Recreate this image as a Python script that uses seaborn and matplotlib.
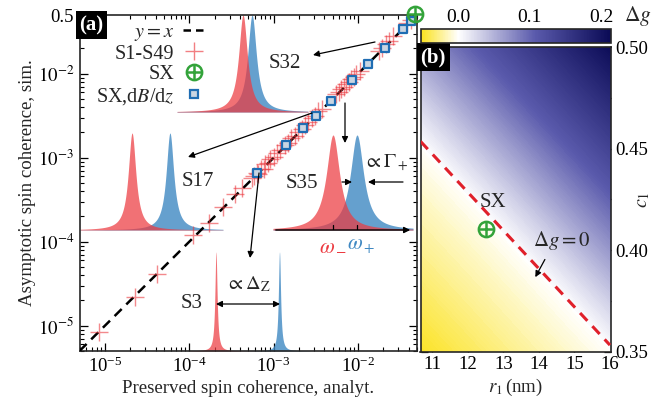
import numpy as np
import matplotlib
matplotlib.use("Agg")
import matplotlib.pyplot as plt
import seaborn as sns
from matplotlib.colors import LinearSegmentedColormap, Normalize
from matplotlib.lines import Line2D
from matplotlib.legend_handler import HandlerTuple

# ---- panel (a): simulated vs analytical coherence ----
s_x = [8.6e-6, 2.28e-5, 4.11e-5,
       1.12e-4, 1.73e-4, 2.53e-4, 3.48e-4, 4.18e-4,
       5.50e-4, 5.89e-4, 6.31e-4, 6.61e-4, 7.08e-4, 7.59e-4, 7.94e-4,
       8.51e-4, 9.12e-4, 1.00e-3, 1.10e-3, 1.20e-3, 1.35e-3, 1.48e-3,
       1.62e-3, 1.78e-3, 1.95e-3, 2.14e-3, 2.34e-3, 2.57e-3, 2.82e-3,
       3.09e-3, 3.39e-3, 3.72e-3,
       5.50e-3, 5.89e-3, 6.31e-3, 6.76e-3, 7.24e-3, 7.76e-3, 8.32e-3,
       8.91e-3, 9.55e-3, 1.05e-2,
       1.78e-2, 1.95e-2, 2.14e-2, 2.34e-2, 2.63e-2, 3.80e-2, 4.27e-2]
s_y = [8.5e-6, 2.21e-5, 4.09e-5,
       1.20e-4, 1.68e-4, 2.57e-4, 3.70e-4, 4.33e-4,
       5.75e-4, 6.03e-4, 6.61e-4, 6.46e-4, 7.41e-4, 7.41e-4, 8.32e-4,
       8.71e-4, 9.55e-4, 1.02e-3, 1.15e-3, 1.23e-3, 1.41e-3, 1.51e-3,
       1.70e-3, 1.82e-3, 2.04e-3, 2.19e-3, 2.45e-3, 2.63e-3, 2.95e-3,
       3.16e-3, 3.55e-3, 3.80e-3,
       5.75e-3, 6.03e-3, 6.61e-3, 6.92e-3, 7.59e-3, 7.94e-3, 8.71e-3,
       9.12e-3, 1.00e-2, 1.07e-2,
       1.86e-2, 2.00e-2, 2.24e-2, 2.45e-2, 2.82e-2, 3.98e-2, 4.37e-2]
grad_x = [6.4e-4, 1.41e-3, 2.24e-3, 3.18e-3, 4.76e-3, 8.4e-3, 1.32e-2, 2.07e-2, 3.42e-2, 4.27e-2]
grad_y = [6.5e-4, 1.42e-3, 2.24e-3, 3.14e-3, 4.78e-3, 8.4e-3, 1.31e-2, 2.04e-2, 3.38e-2, 4.28e-2]
sx_x = [0.047]
sx_y = [0.052]
diag = [5e-6, 0.05]

# ---- panel (b): Delta g map ----
r1_grid = [10.67, 12.0, 13.3, 14.7, 16.03]
c1_grid = [0.35, 0.375, 0.40, 0.425, 0.45, 0.475, 0.50]
dg_grid = [[-0.050, -0.038, -0.026, -0.013, -0.001],
           [-0.038, -0.026, -0.014, -0.001, 0.032],
           [-0.026, -0.014, -0.002, 0.032, 0.068],
           [-0.014, -0.002, 0.030, 0.068, 0.103],
           [-0.002, 0.031, 0.065, 0.103, 0.139],
           [0.030, 0.066, 0.101, 0.139, 0.174],
           [0.066, 0.102, 0.136, 0.174, 0.210]]
zero_r1 = [10.67, 16.0]
zero_c1 = [0.4536, 0.3534]
sx_r1 = [12.52]
sx_c1 = [0.4103]

RED = "#ec3a40"
BLUE = "#3f88c2"
GREEN = "#33a33a"

sns.set_theme(style="ticks")
plt.rcParams["font.family"] = ["Liberation Serif", "DejaVu Serif"]
plt.rcParams["mathtext.fontset"] = "stix"
plt.rcParams["font.size"] = 13.5
for a in ("x", "y"):
    plt.rcParams[a + "tick.direction"] = "in"
    plt.rcParams[a + "tick.labelsize"] = 13.5
    plt.rcParams[a + "tick.color"] = "black"
    plt.rcParams[a + "tick.labelcolor"] = "black"

fig = plt.figure(figsize=(6.54, 4.2), dpi=100)
W, H = 654.0, 420.0
ax = fig.add_axes([79.5 / W, 1 - 351 / H, 337.5 / W, 336 / H])

ax.set_xscale("log")
ax.set_yscale("log")
ax.set_xlim(5e-6, 0.05)
ax.set_ylim(5e-6, 0.05)

ax.plot(diag, diag, color="black", lw=1.8, ls=(0, (4, 2.6)), zorder=3)
sns.scatterplot(x=s_x, y=s_y, marker="+", s=180, color=RED, alpha=0.6,
                linewidth=1.0, ax=ax, legend=False, zorder=4)
sns.scatterplot(x=grad_x, y=grad_y, marker="s", s=34, color="#c9d5e2",
                edgecolor="#1f6db3", linewidth=1.6, ax=ax, legend=False, zorder=5)
ax.plot(sx_x, sx_y, "o", mfc="none", mec=GREEN, ms=11, mew=1.8, clip_on=False, zorder=6)
ax.plot(sx_x, sx_y, "+", color=GREEN, ms=11, mew=1.8, clip_on=False, zorder=6)

ax.set_xticks([1e-5, 1e-4, 1e-3, 1e-2])
ax.set_yticks([1e-5, 1e-4, 1e-3, 1e-2, 0.05])
ax.set_yticklabels([r"$10^{-5}$", r"$10^{-4}$", r"$10^{-3}$", r"$10^{-2}$", "0.5"])
ax.tick_params(which="both", top=True, right=True)
ax.tick_params(which="major", length=6, width=0.9, pad=4)
ax.tick_params(which="minor", length=3, width=0.8)
for sp in ax.spines.values():
    sp.set_linewidth(1.2)
ax.set_xlabel("Preserved spin coherence, analyt.", fontsize=13.6, labelpad=3)
ax.set_ylabel("Asymptotic spin coherence, sim.", fontsize=13.6, labelpad=1)


def px_box(x0, x1, ytop, ybase):
    return [(x0 - 79.5) / 337.5, (351 - ybase) / 336, (x1 - x0) / 337.5, (ybase - ytop) / 336]


def peaks(box, c_red, c_blue, width, npts=1500):
    ins = ax.inset_axes(box)
    ins.set_zorder(1)
    ins.set_axis_off()
    xs = np.linspace(0, 1, npts)
    ins.fill_between(xs, 0, 1 / (1 + ((xs - c_blue) / width) ** 2), color=BLUE, alpha=0.8, lw=0)
    ins.fill_between(xs, 0, 1 / (1 + ((xs - c_red) / width) ** 2), color=RED, alpha=0.72, lw=0)
    ins.set_xlim(0, 1)
    ins.set_ylim(0, 1)
    return ins


peaks(px_box(177, 308, 15, 112), 0.504, 0.573, 0.04)
peaks(px_box(80, 223, 133, 230), 0.364, 0.629, 0.032)
s35 = peaks(px_box(273, 413, 135, 230), 0.4286, 0.60, 0.057)
s35.annotate("", xy=(1.0, 0), xytext=(0, 0), xycoords="axes fraction",
             arrowprops=dict(arrowstyle="-|>", lw=1.0, color="black", mutation_scale=9))
for c in (0.4286, 0.60):
    s35.plot([c, c], [0, 0.05], color="black", lw=0.9)
peaks(px_box(190, 310, 252, 351), 0.2167, 0.7458, 0.011, npts=4000)


def fx(x):
    return (x - 79.5) / 337.5


def fy(y):
    return (351 - y) / 336


arr = dict(arrowstyle="-|>", lw=0.9, color="black", mutation_scale=9, shrinkA=0, shrinkB=0)
for tail, head in [((375, 42), (313, 55)), ((312, 113), (188, 157)),
                   ((345, 103), (345, 143)), ((259, 173), (250, 258)),
                   ((342, 182), (352, 182)), ((403, 182), (368, 182))]:
    ax.annotate("", xy=(fx(head[0]), fy(head[1])), xytext=(fx(tail[0]), fy(tail[1])),
                xycoords="axes fraction", arrowprops=arr, zorder=7)
ax.annotate("", xy=(fx(216), fy(304)), xytext=(fx(280), fy(304)), xycoords="axes fraction",
            arrowprops=dict(arrowstyle="<|-|>", lw=0.9, color="black", mutation_scale=9,
                            shrinkA=0, shrinkB=0), zorder=7)

for txt, x, y in [("S32", 285, 63), ("S17", 198, 182), ("S35", 302, 183), ("S3", 192, 303)]:
    ax.text(fx(x), fy(y), txt, transform=ax.transAxes, ha="center", va="center", fontsize=15, zorder=8)
ax.text(fx(386), fy(163), r"$\propto \mathit{\Gamma}_+$", transform=ax.transAxes,
        ha="center", va="center", fontsize=14.5, zorder=8)
ax.text(fx(248), fy(284), r"$\propto \mathit{\Delta}_\mathrm{Z}$", transform=ax.transAxes,
        ha="center", va="center", fontsize=14.5, zorder=8)
ax.text(fx(333), fy(246), r"$\omega_-$", transform=ax.transAxes, color=RED,
        ha="center", va="center", fontsize=15.5, zorder=8)
ax.text(fx(361), fy(246), r"$\omega_+$", transform=ax.transAxes, color=BLUE,
        ha="center", va="center", fontsize=15.5, zorder=8)

h_line = Line2D([], [], color="black", lw=1.8, ls=(0, (3, 2)))
h_plus = Line2D([], [], color=RED, marker="+", ls="none", ms=13, mew=1.0, alpha=0.65)
h_c = Line2D([], [], marker="o", mfc="none", mec=GREEN, ms=11, mew=1.8, ls="none")
h_p = Line2D([], [], marker="+", color=GREEN, ms=11, mew=1.8, ls="none")
h_sq = Line2D([], [], marker="s", mfc="#c9d5e2", mec="#1f6db3", ms=6, mew=1.6, ls="none")
leg = ax.legend([h_line, h_plus, (h_c, h_p), h_sq],
                [r"$y = x$", "S1-S49", "SX", r"SX,d$B$/d$z$"],
                handler_map={tuple: HandlerTuple(ndivide=1)},
                loc="upper left", bbox_to_anchor=(0.0, 1.025), markerfirst=False,
                frameon=False, fontsize=14.5, handlelength=1.1, handletextpad=0.45,
                labelspacing=0.08, borderpad=0.3)
leg.set_zorder(9)

ax.text(0.0, 1.0, "(a)", transform=ax.transAxes, ha="left", va="top", color="white",
        fontsize=15, fontweight="bold", zorder=10,
        bbox=dict(boxstyle="square,pad=0.18", fc="black", ec="none"))

# ---- panel (b) ----
ax2 = fig.add_axes([420.5 / W, 1 - 352 / H, 190.5 / W, 305 / H])
cmap = LinearSegmentedColormap.from_list(
    "yw_navy", [(0.0, "#fbe21e"), (0.195, "#ffffff"), (0.6, "#5a5aac"), (1.0, "#0a0a55")])
norm = Normalize(vmin=-0.052, vmax=0.214)
ax2.contourf(r1_grid, c1_grid, dg_grid, levels=np.linspace(-0.052, 0.214, 220),
             cmap=cmap, norm=norm, extend="both")
ax2.plot(zero_r1, zero_c1, color="#e0202a", lw=2.2, ls=(0, (3.5, 2.4)), zorder=3)
ax2.plot(sx_r1, sx_c1, "o", mfc="none", mec=GREEN, ms=11, mew=1.8, zorder=4)
ax2.plot(sx_r1, sx_c1, "+", color=GREEN, ms=11, mew=1.8, zorder=4)
ax2.text(12.72, 0.4235, "SX", ha="center", va="center", fontsize=15)
ax2.text(14.65, 0.405, r"$\Delta g = 0$", ha="center", va="center", fontsize=15)
ax2.annotate("", xy=(13.9, 0.3868), xytext=(14.17, 0.3955),
             arrowprops=dict(arrowstyle="-|>", lw=0.9, color="black", mutation_scale=9,
                             shrinkA=0, shrinkB=0))
ax2.set_xlim(10.67, 16.03)
ax2.set_ylim(0.35, 0.50)
ax2.set_xticks([11, 12, 13, 14, 15, 16])
ax2.set_yticks([0.35, 0.375, 0.40, 0.425, 0.45, 0.475, 0.50])
ax2.set_yticklabels(["0.35", "", "0.40", "", "0.45", "", "0.50"])
ax2.yaxis.tick_right()
ax2.yaxis.set_label_position("right")
ax2.tick_params(which="both", top=True, left=True, right=True, length=5, width=0.9, pad=3)
for sp in ax2.spines.values():
    sp.set_linewidth(1.2)
ax2.set_xlabel(r"$r_1\,$(nm)", fontsize=13.6, labelpad=3)
ax2.set_ylabel(r"$c_1$", fontsize=14.5)
ax2.yaxis.set_label_coords((633 - 420.5) / 190.5, 0.5)
ax2.text(0.0, 1.0, "(b)", transform=ax2.transAxes, ha="left", va="top", color="white",
         fontsize=15, fontweight="bold",
         bbox=dict(boxstyle="square,pad=0.18", fc="black", ec="none"))

cax = fig.add_axes([421 / W, 1 - 43 / H, 190 / W, 14 / H])
cb = fig.colorbar(plt.cm.ScalarMappable(norm=norm, cmap=cmap), cax=cax, orientation="horizontal")
cb.set_ticks([0.0, 0.1, 0.2])
cb.set_ticklabels(["0.0", "0.1", "0.2"])
cax.xaxis.set_ticks_position("top")
cax.tick_params(direction="in", length=5, width=0.9, pad=2, labelsize=14)
cb.outline.set_linewidth(1.2)
fig.text(624 / W, 1 - 16 / H, r"$\Delta g$", ha="left", va="center", fontsize=15.5)

fig.savefig("out.png", dpi=100)
